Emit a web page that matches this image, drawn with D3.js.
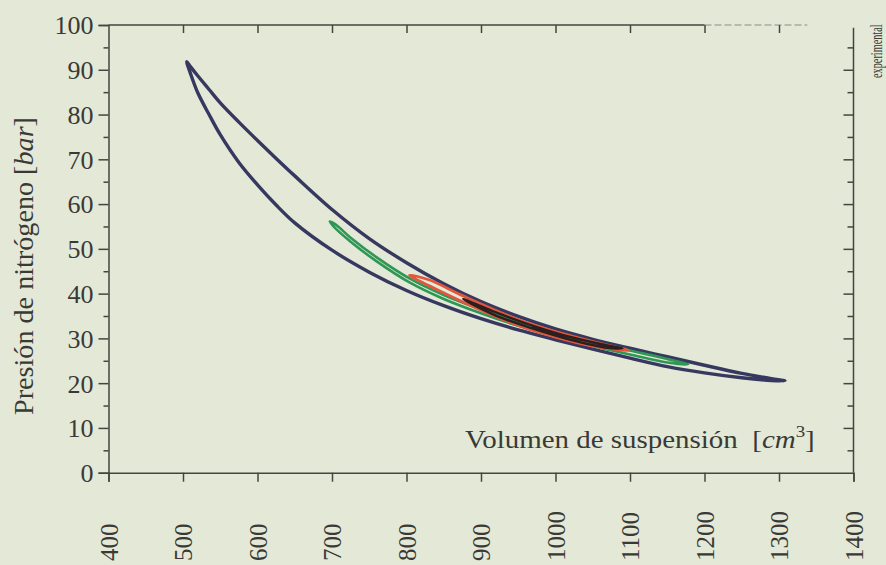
<!DOCTYPE html>
<html>
<head>
<meta charset="utf-8">
<script src="https://cdn.jsdelivr.net/npm/d3@7"></script>
<style>
  html, body { margin: 0; padding: 0; background: #e3e9d6; }
  svg { display: block; }
  text { font-family: "Liberation Serif", "Times New Roman", serif; fill: #3a3936; }
</style>
</head>
<body>
<svg id="chart" width="886" height="565"></svg>
<script>
// Nitrogen pressure [bar] vs. suspension volume [cm³], four measured cycles.
// Each loop: volume grid, pressure along the upper branch and along the lower branch.

const navyVolume = [505, 510, 520, 535, 550, 575, 600, 625, 650, 700, 750, 800, 850, 900, 950, 1000, 1050, 1100, 1150, 1200, 1250, 1290, 1308];
const navyUpper  = [91.8, 90.7, 88.6, 85.6, 82.6, 78.3, 74.2, 70.2, 66.3, 58.8, 52.3, 46.9, 42.2, 38.2, 34.9, 32.1, 29.8, 27.8, 25.9, 24.0, 22.2, 21.0, 20.5];
const navyLower  = [91.8, 89.2, 84.8, 80.0, 75.5, 69.3, 64.3, 59.8, 55.8, 49.7, 44.8, 40.7, 37.3, 34.4, 31.9, 29.7, 27.6, 25.6, 23.7, 22.3, 21.2, 20.6, 20.5];

const greenVolume = [697, 705, 725, 760, 804, 850, 900, 950, 1000, 1050, 1100, 1150, 1178];
const greenUpper  = [56.1, 55.4, 52.5, 48.1, 43.4, 39.7, 36.5, 33.7, 31.3, 29.2, 27.3, 25.4, 24.2];
const greenLower  = [56.1, 54.5, 51.6, 47.2, 42.5, 38.8, 35.6, 32.8, 30.4, 28.3, 26.4, 24.6, 24.2];

const redVolume = [804, 830, 876, 950, 1000, 1050, 1098];
const redUpper  = [44.1, 43.1, 39.5, 34.2, 31.5, 29.3, 27.3];
const redLower  = [44.1, 41.8, 38.1, 32.9, 30.3, 28.3, 27.3];

const darkVolume = [876, 920, 970, 1020, 1070, 1090];
const darkUpper  = [38.8, 35.8, 32.8, 30.3, 28.4, 27.8];
const darkLower  = [38.8, 35.1, 32.2, 29.7, 27.9, 27.8];

const xTicks = [400, 500, 600, 700, 800, 900, 1000, 1100, 1200, 1300, 1400];
const yTicks = [0, 10, 20, 30, 40, 50, 60, 70, 80, 90, 100];
const yMinorTicks = [5, 15, 25, 35, 45, 55, 65, 75, 85, 95];

const svg = d3.select("#chart");
const axisColor = "#454440";

const x = d3.scaleLinear().domain([400, 1400]).range([108.5, 853.5]);
const y = d3.scaleLinear().domain([0, 100]).range([472.7, 25]);

// ---- axes ----
function styleAxis(g) {
  g.selectAll("path.domain").attr("stroke", axisColor).attr("stroke-width", 1.5);
  g.selectAll(".tick line").attr("stroke", axisColor).attr("stroke-width", 1.5);
}

// left: labelled majors, short minors (outward)
const leftAxis = svg.append("g").attr("transform", `translate(${x(400)},0)`)
  .call(d3.axisLeft(y).tickValues(yTicks).tickSize(10).tickPadding(5).tickFormat(d3.format("d")));
styleAxis(leftAxis);
leftAxis.selectAll(".tick text").attr("font-size", 26).attr("font-family", "Liberation Serif").attr("fill", "#3a3936").attr("dy", "0.34em");
const leftMinor = svg.append("g").attr("transform", `translate(${x(400)},0)`)
  .call(d3.axisLeft(y).tickValues(yMinorTicks).tickSize(5).tickFormat(""));
leftMinor.select("path.domain").remove();
styleAxis(leftMinor);

// bottom: ticks outward, labels rotated and bottom-aligned
const bottomAxis = svg.append("g").attr("transform", `translate(0,${y(0)})`)
  .call(d3.axisBottom(x).tickValues(xTicks).tickSize(9).tickFormat(""));
styleAxis(bottomAxis);
bottomAxis.selectAll(".tick").append("text")
  .attr("transform", `translate(0,${561 - y(0)}) rotate(-90)`)
  .attr("text-anchor", "start")
  .attr("dy", "0.35em")
  .attr("font-size", 25)
  .attr("fill", "#3a3936")
  .text(d => d);

// top: ticks inward, line fading out to the right
const topAxis = svg.append("g").attr("transform", `translate(0,${y(100)})`)
  .call(d3.axisBottom(x).tickValues(xTicks.slice(1, 10)).tickSize(8).tickFormat(""));
topAxis.select("path.domain").remove();
styleAxis(topAxis);
topAxis.append("line").attr("x1", x(400)).attr("x2", x(1200)).attr("y1", 0).attr("y2", 0)
  .attr("stroke", axisColor).attr("stroke-width", 1.5);
topAxis.append("line").attr("x1", x(1200)).attr("x2", x(1338)).attr("y1", 0).attr("y2", 0)
  .attr("stroke", axisColor).attr("stroke-width", 1.2).attr("stroke-opacity", 0.55)
  .attr("stroke-dasharray", "7,3");

// right: ticks inward every 5 bar
const rightAxis = svg.append("g").attr("transform", `translate(${x(1400)},0)`);
rightAxis.append("line").attr("x1", 0).attr("x2", 0).attr("y1", y(99.4)).attr("y2", y(0))
  .attr("stroke", axisColor).attr("stroke-width", 1.5);
rightAxis.append("g").call(d3.axisRight(y).tickValues(yTicks.slice(1, 10)).tickSize(-10).tickFormat(""));
rightAxis.append("g").call(d3.axisRight(y).tickValues(yMinorTicks).tickSize(-6).tickFormat(""));
rightAxis.selectAll("path.domain").remove();
styleAxis(rightAxis);

// ---- loops ----
const loopLine = d3.line()
  .x(d => x(d[0]))
  .y(d => y(d[1]))
  .curve(d3.curveCatmullRomClosed.alpha(0.5));

function loopPoints(vol, upper, lower) {
  const up = vol.map((v, i) => [v, upper[i]]);
  const low = vol.map((v, i) => [v, lower[i]]).slice(1, -1).reverse();
  return up.concat(low);
}

const loops = [
  { vol: navyVolume,  up: navyUpper,  low: navyLower,  color: "#37385f", width: 3.4 },
  { vol: greenVolume, up: greenUpper, low: greenLower, color: "#2f9655", width: 2.6 },
  { vol: redVolume,   up: redUpper,   low: redLower,   color: "#e0573d", width: 2.8 },
  { vol: darkVolume,  up: darkUpper,  low: darkLower,  color: "#2c1f1d", width: 2.5 }
];

svg.append("g").selectAll("path")
  .data(loops)
  .join("path")
  .attr("d", d => loopLine(loopPoints(d.vol, d.up, d.low)))
  .attr("fill", "none")
  .attr("stroke", d => d.color)
  .attr("stroke-width", d => d.width)
  .attr("stroke-linejoin", "round");

// ---- titles ----
function fitWidth(sel, target) {
  const w = sel.node().getBBox().width;
  return target / w;
}

const yTitle = svg.append("text").attr("font-size", 28).attr("x", 0).attr("y", 0);
yTitle.append("tspan").text("Presión de nitrógeno [");
yTitle.append("tspan").attr("font-style", "italic").text("bar");
yTitle.append("tspan").text("]");
const syT = fitWidth(yTitle, 298);
yTitle.attr("transform", `translate(33,415) rotate(-90) scale(${syT},1)`);

const xTitle = svg.append("text").attr("font-size", 26).attr("x", 0).attr("y", 0);
xTitle.append("tspan").text("Volumen de suspensión\u00A0\u00A0[");
xTitle.append("tspan").attr("font-style", "italic").text("cm");
xTitle.append("tspan").attr("font-size", 17).attr("dy", -11).text("3");
xTitle.append("tspan").attr("dy", 11).text("]");
const sxT = fitWidth(xTitle, 350);
xTitle.attr("transform", `translate(465,448) scale(${sxT},1)`);

const expLabel = svg.append("text").attr("font-size", 16).attr("x", 0).attr("y", 0).text("experimental");
const seT = fitWidth(expLabel, 54);
expLabel.attr("transform", `translate(882,78) rotate(-90) scale(${seT},1)`);
</script>
</body>
</html>
